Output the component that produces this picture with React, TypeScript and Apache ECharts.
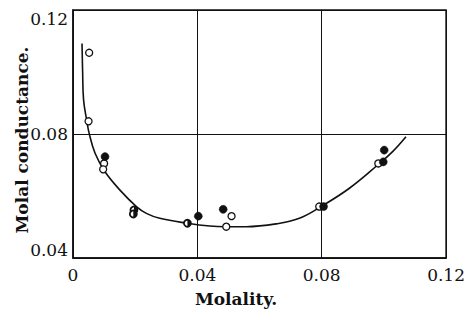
import React, { useEffect, useRef } from "react";
import * as echarts from "echarts";

const xTicks = [0, 0.04, 0.08, 0.12];
const yTicks = [0.04, 0.08, 0.12];

const openPoints: [number, number][] = [
  [0.0052, 0.1062],
  [0.005, 0.0841],
  [0.0100, 0.0705],
  [0.0097, 0.0686],
  [0.051, 0.0535],
  [0.0493, 0.0501],
  [0.0792, 0.0566],
  [0.0982, 0.0705],
];

const filledPoints: [number, number][] = [
  [0.0103, 0.0727],
  [0.0403, 0.0535],
  [0.0483, 0.0557],
  [0.0806, 0.0566],
  [0.0998, 0.071],
  [0.1001, 0.0748],
];

const halfPoints: [number, number][] = [
  [0.0196, 0.0555],
  [0.0194, 0.0542],
  [0.0368, 0.0512],
];

const curvePoints: [number, number][] = [
  [0.0029, 0.1092],
  [0.0031, 0.1],
  [0.0034, 0.091],
  [0.0044, 0.0845],
  [0.0052, 0.0802],
  [0.0071, 0.0738],
  [0.0103, 0.0678],
  [0.0151, 0.0619],
  [0.0204, 0.0566],
  [0.0236, 0.0544],
  [0.0279, 0.0528],
  [0.0368, 0.0512],
  [0.044, 0.0503],
  [0.0493, 0.0501],
  [0.0557, 0.0501],
  [0.0653, 0.051],
  [0.0728, 0.0528],
  [0.0798, 0.0566],
  [0.0889, 0.0625],
  [0.098, 0.07],
  [0.1028, 0.0743],
  [0.1071, 0.0791],
];

const INK = "#111";
const FONT = "DejaVu Serif";

export default function App() {
  const ref = useRef<HTMLDivElement>(null);
  useEffect(() => {
    if (!ref.current) return;
    const chart = echarts.init(ref.current, null, { renderer: "svg" });
    chart.setOption({
      animation: false,
      backgroundColor: "#fff",
      grid: {
        left: 73,
        right: 21,
        top: 10,
        bottom: 51,
        show: true,
        borderColor: INK,
        borderWidth: 1.5,
      },
      xAxis: {
        type: "value",
        min: 0,
        max: 0.12,
        interval: 0.04,
        axisLine: { show: true, lineStyle: { color: INK, width: 1.5 } },
        axisTick: { show: false },
        splitLine: { show: true, lineStyle: { color: INK, width: 1 } },
        axisLabel: {
          color: INK,
          fontFamily: FONT,
          fontSize: 17,
          margin: 8,
          formatter: (v: number) => {
            const t = xTicks.find((k) => Math.abs(k - v) < 1e-9);
            return t === undefined ? "" : t === 0 ? "0" : t.toFixed(2);
          },
        },
      },
      yAxis: {
        type: "value",
        min: 0.04,
        max: 0.12,
        interval: 0.04,
        axisLine: { show: true, lineStyle: { color: INK, width: 1.5 } },
        axisTick: { show: false },
        splitLine: { show: true, lineStyle: { color: INK, width: 1 } },
        axisLabel: {
          color: INK,
          fontFamily: FONT,
          fontSize: 17,
          margin: 5,
          verticalAlignMinLabel: "bottom",
          verticalAlignMaxLabel: "top",
          formatter: (v: number) => {
            const t = yTicks.find((k) => Math.abs(k - v) < 1e-9);
            return t === undefined ? "" : t.toFixed(2);
          },
        },
      },
      graphic: [
        {
          type: "text",
          x: 236,
          y: 299,
          style: {
            text: "Molality.",
            fill: INK,
            font: `bold 17px "${FONT}"`,
            textAlign: "center",
            textVerticalAlign: "middle",
          },
        },
        {
          type: "text",
          x: 22,
          y: 140,
          rotation: Math.PI / 2,
          style: {
            text: "Molal conductance.",
            fill: INK,
            font: `bold 17px "${FONT}"`,
            textAlign: "center",
            textVerticalAlign: "middle",
          },
        },
      ],
      series: [
        {
          type: "line",
          data: curvePoints,
          smooth: 0.4,
          showSymbol: false,
          lineStyle: { color: INK, width: 1.6 },
          z: 2,
        },
        {
          type: "scatter",
          data: openPoints,
          symbol: "circle",
          symbolSize: 7,
          itemStyle: { color: "#fff", borderColor: INK, borderWidth: 1.3, opacity: 1 },
          z: 3,
        },
        {
          type: "scatter",
          data: halfPoints,
          symbol: "circle",
          symbolSize: 7,
          itemStyle: { color: "#fff", borderColor: INK, borderWidth: 1.8, opacity: 1 },
          z: 3,
        },
        {
          type: "scatter",
          data: halfPoints,
          symbol: "path://M0,0 A10,10 0 0,1 0,20 Z",
          symbolSize: [3.5, 7],
          symbolOffset: [1.75, 0],
          itemStyle: { color: INK, opacity: 1 },
          z: 4,
        },
        {
          type: "scatter",
          data: filledPoints,
          symbol: "circle",
          symbolSize: 8,
          itemStyle: { color: INK, borderColor: INK, borderWidth: 0.5, opacity: 1 },
          z: 4,
        },
      ],
    });
    return () => chart.dispose();
  }, []);
  return (
    <div
      ref={ref}
      style={{ position: "fixed", left: 0, top: 0, width: 468, height: 309 }}
    />
  );
}
